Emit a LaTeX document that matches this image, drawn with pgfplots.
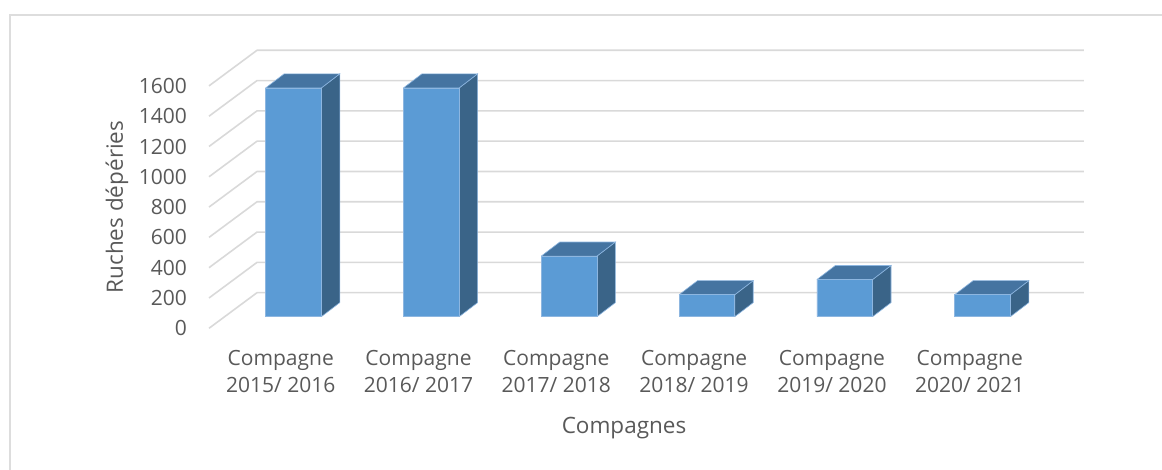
\documentclass[border=0pt]{standalone}
\usepackage{pgfplots}
\usepackage{pgfplotstable}
\pgfplotsset{compat=1.18}
\usepackage{fontspec}
\setmainfont{Open Sans}
\definecolor{txt}{HTML}{595959}
\definecolor{gridc}{HTML}{D9D9D9}
\definecolor{framec}{HTML}{DDDDDD}
\definecolor{frontc}{HTML}{5B9BD5}
\definecolor{topc}{HTML}{4574A1}
\definecolor{sidec}{HTML}{3A6488}
\definecolor{edgec}{HTML}{8DB6E0}

\pgfplotstableread{
x y
0 1510
1 1510
2 400
3 145
4 245
5 145
}\bars

\newcommand\gl[2]{\addplot[gridc, line width=1.6pt, line join=round] coordinates {(-0.6132,#1) (-0.2649,#2) (5.735,#2)};}

\begin{document}
\begin{tikzpicture}
\path[use as bounding box] (0,0) rectangle (1162pt,470pt);
\draw[framec, line width=2pt] (10pt,-5pt) -- (10pt,455pt) -- (1170pt,455pt);
\begin{axis}[
  at={(209pt,141.7pt)}, anchor=south west,
  scale only axis, width=874.8pt, height=278pt,
  xmin=-0.6132, xmax=5.735, ymin=-76.6, ymax=1758.4,
  axis line style={draw=none}, major tick length=0pt,
  clip=false,
  xtick={-0.093,0.907,1.907,2.907,3.907,4.907},
  xticklabels={{Compagne\\2015/ 2016},{Compagne\\2016/ 2017},{Compagne\\2017/ 2018},{Compagne\\2018/ 2019},{Compagne\\2019/ 2020},{Compagne\\2020/ 2021}},
  xticklabel style={font=\fontsize{21}{27}\selectfont, text=txt, align=center, anchor=center, yshift=-43.2pt},
  ytick={-76.6,123.4,323.4,523.4,723.4,923.4,1123.4,1323.4,1523.4},
  yticklabels={0,200,400,600,800,1000,1200,1400,1600},
  yticklabel style={font=\fontsize{21}{25}\selectfont, text=txt, anchor=east, inner sep=0pt, xshift=-22pt},
  xlabel={Compagnes}, ylabel={Ruches dépéries},
  xlabel style={at={(rel axis cs:0.4744,-0.3586)}, anchor=center, font=\fontsize{22.5}{27}\selectfont, text=txt},
  ylabel style={at={(rel axis cs:-0.1052,0.4363)}, anchor=center, font=\fontsize{22.5}{27}\selectfont, text=txt},
]
\gl{-76.6}{158.4}
\gl{123.4}{358.4}
\gl{323.4}{558.4}
\gl{523.4}{758.4}
\gl{723.4}{958.4}
\gl{923.4}{1158.4}
\gl{1123.4}{1358.4}
\gl{1323.4}{1558.4}
\gl{1523.4}{1758.4}

% side faces
\addplot[fill=sidec, draw=edgec, line width=0.6pt] coordinates {(0.202,0) (0.336,93) (0.336,1603) (0.202,1510) (0.202,0)};
\addplot[fill=sidec, draw=edgec, line width=0.6pt] coordinates {(1.202,0) (1.336,93) (1.336,1603) (1.202,1510) (1.202,0)};
\addplot[fill=sidec, draw=edgec, line width=0.6pt] coordinates {(2.202,0) (2.336,93) (2.336,493) (2.202,400) (2.202,0)};
\addplot[fill=sidec, draw=edgec, line width=0.6pt] coordinates {(3.202,0) (3.336,93) (3.336,238) (3.202,145) (3.202,0)};
\addplot[fill=sidec, draw=edgec, line width=0.6pt] coordinates {(4.202,0) (4.336,93) (4.336,338) (4.202,245) (4.202,0)};
\addplot[fill=sidec, draw=edgec, line width=0.6pt] coordinates {(5.202,0) (5.336,93) (5.336,238) (5.202,145) (5.202,0)};
% top faces
\addplot[fill=topc, draw=edgec, line width=0.6pt] coordinates {(-0.202,1510) (0.202,1510) (0.336,1603) (-0.068,1603) (-0.202,1510)};
\addplot[fill=topc, draw=edgec, line width=0.6pt] coordinates {(0.798,1510) (1.202,1510) (1.336,1603) (0.932,1603) (0.798,1510)};
\addplot[fill=topc, draw=edgec, line width=0.6pt] coordinates {(1.798,400) (2.202,400) (2.336,493) (1.932,493) (1.798,400)};
\addplot[fill=topc, draw=edgec, line width=0.6pt] coordinates {(2.798,145) (3.202,145) (3.336,238) (2.932,238) (2.798,145)};
\addplot[fill=topc, draw=edgec, line width=0.6pt] coordinates {(3.798,245) (4.202,245) (4.336,338) (3.932,338) (3.798,245)};
\addplot[fill=topc, draw=edgec, line width=0.6pt] coordinates {(4.798,145) (5.202,145) (5.336,238) (4.932,238) (4.798,145)};
% front faces
\addplot[ybar, bar width=0.404, fill=frontc, draw=edgec, line width=0.6pt] table[x=x, y=y] {\bars};
\end{axis}
\end{tikzpicture}
\end{document}
